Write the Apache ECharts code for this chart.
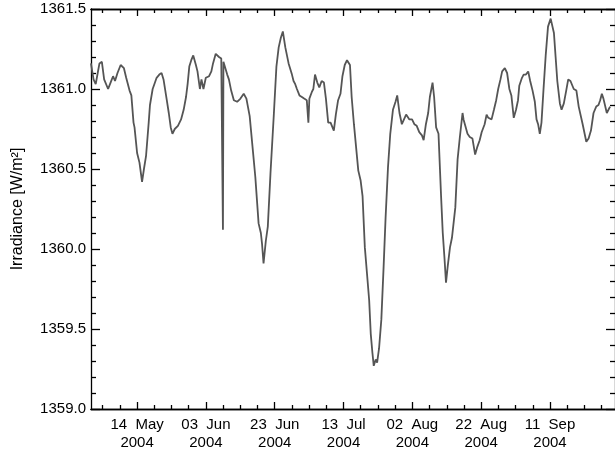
<!DOCTYPE html>
<html>
<head>
<meta charset="utf-8">
<script src="https://cdn.jsdelivr.net/npm/echarts@6/dist/echarts.min.js"></script>
<style>
  html, body { margin: 0; padding: 0; background: #fff; }
  #chart { width: 615px; height: 453px; }
</style>
</head>
<body>
<div id="chart"></div>
<script>
// day of year 2004 (fractional) and total solar irradiance in W/m^2
const days = [
  121.59, 122.34, 122.97, 123.55, 124.06, 124.76, 125.42, 125.99, 126.57, 127.29,
  128.01, 128.58, 129.30, 130.22, 131.17, 131.83, 132.81, 133.33, 133.96, 134.25,
  135.00, 135.69, 136.44, 136.99, 137.59, 138.37, 138.74, 139.52, 140.01, 140.67,
  141.45, 142.11, 142.68, 143.63, 144.21, 144.78, 145.27, 145.94, 146.51, 146.86,
  147.78, 148.53, 149.22, 149.68, 150.17, 150.74, 151.32, 152.09, 152.55, 153.25,
  153.71, 154.28, 154.97, 155.92, 156.58, 157.07, 157.85, 158.80, 159.46, 159.81,
  159.95, 160.09, 160.44, 161.19, 161.68, 162.34, 163.12, 164.07, 165.04, 165.99,
  166.77, 167.72, 168.67, 169.36, 170.31, 170.97, 171.32, 171.75, 172.41, 172.99,
  173.76, 174.71, 175.49, 176.15, 176.78, 177.36, 178.08, 179.03, 180.01, 180.47,
  180.96, 181.45, 182.19, 182.89, 183.55, 184.32, 184.78, 185.07, 185.76, 186.22,
  186.71, 187.37, 187.95, 188.64, 189.30, 189.88, 190.54, 191.23, 191.81, 192.18,
  192.76, 193.42, 194.11, 194.68, 195.35, 196.01, 196.87, 197.36, 198.02, 198.51,
  199.29, 199.95, 200.53, 201.19, 201.88, 202.45, 202.91, 203.40, 203.78, 204.35,
  204.76, 205.33, 205.99, 206.65, 207.23, 207.92, 208.58, 209.36, 209.73, 210.11,
  210.60, 211.26, 211.95, 212.41, 213.19, 214.14, 214.91, 215.58, 216.27, 217.01,
  217.79, 218.28, 218.94, 219.60, 220.09, 220.87, 221.33, 221.91, 222.60, 223.35,
  223.84, 224.32, 224.78, 225.27, 225.94, 226.51, 226.91, 227.49, 228.15, 228.81,
  229.59, 229.88, 230.37, 231.03, 231.69, 232.47, 233.25, 233.91, 234.57, 235.14,
  236.01, 236.58, 237.07, 238.02, 238.71, 239.37, 239.95, 240.61, 241.10, 241.88,
  242.54, 243.20, 243.78, 244.47, 245.13, 245.71, 246.08, 246.86, 247.35, 248.01,
  248.67, 249.25, 249.94, 250.60, 251.09, 251.55, 252.04, 252.53, 253.10, 253.76,
  254.43, 255.20, 255.69, 256.15, 256.64, 257.13, 257.88, 258.37, 259.03, 259.72,
  260.30, 260.96, 261.45, 261.91, 262.68, 263.35, 263.84, 264.50, 264.99, 265.56,
  266.22, 266.91, 267.66, 268.44, 269.10, 269.59, 270.08, 270.54, 271.03, 271.52,
  271.98, 272.47
];
const irradiance = [
  1361.16, 1361.06, 1361.03, 1361.10, 1361.16, 1361.17, 1361.06, 1361.05, 1361.00, 1361.04,
  1361.08, 1361.05, 1361.10, 1361.15, 1361.13, 1361.07, 1360.99, 1360.96, 1360.79, 1360.76,
  1360.60, 1360.54, 1360.42, 1360.50, 1360.58, 1360.79, 1360.90, 1361.00, 1361.03, 1361.07,
  1361.09, 1361.10, 1361.06, 1360.93, 1360.85, 1360.76, 1360.72, 1360.75, 1360.76, 1360.77,
  1360.81, 1360.87, 1360.95, 1361.03, 1361.14, 1361.18, 1361.21, 1361.15, 1361.11, 1361.00,
  1361.06, 1361.00, 1361.07, 1361.08, 1361.11, 1361.16, 1361.22, 1361.20, 1361.19, 1361.19,
  1360.12, 1361.17, 1361.16, 1361.09, 1361.06, 1360.99, 1360.93, 1360.92, 1360.94, 1360.97,
  1360.94, 1360.83, 1360.61, 1360.45, 1360.16, 1360.10, 1360.03, 1359.91, 1360.05, 1360.14,
  1360.47, 1360.83, 1361.14, 1361.26, 1361.32, 1361.36, 1361.26, 1361.16, 1361.09, 1361.05,
  1361.03, 1361.00, 1360.96, 1360.95, 1360.94, 1360.93, 1360.79, 1360.94, 1360.98, 1361.00,
  1361.09, 1361.04, 1361.01, 1361.05, 1361.04, 1360.94, 1360.79, 1360.79, 1360.79, 1360.74,
  1360.84, 1360.93, 1360.97, 1361.08, 1361.15, 1361.18, 1361.15, 1360.95, 1360.78, 1360.77,
  1360.49, 1360.43, 1360.33, 1360.01, 1359.83, 1359.68, 1359.47, 1359.35, 1359.27, 1359.31,
  1359.29, 1359.38, 1359.56, 1359.89, 1360.20, 1360.51, 1360.72, 1360.87, 1360.87, 1360.92,
  1360.96, 1360.85, 1360.78, 1360.79, 1360.84, 1360.81, 1360.81, 1360.78, 1360.77, 1360.73,
  1360.71, 1360.68, 1360.78, 1360.85, 1360.95, 1361.04, 1360.95, 1360.76, 1360.72, 1360.33,
  1360.10, 1359.95, 1359.79, 1359.89, 1360.01, 1360.07, 1360.07, 1360.26, 1360.56, 1360.70,
  1360.85, 1360.81, 1360.82, 1360.72, 1360.70, 1360.69, 1360.59, 1360.64, 1360.68, 1360.73,
  1360.78, 1360.84, 1360.82, 1360.81, 1360.87, 1360.93, 1361.00, 1361.06, 1361.11, 1361.13,
  1361.10, 1361.00, 1360.96, 1360.82, 1360.87, 1360.93, 1361.02, 1361.07, 1361.09, 1361.09,
  1361.11, 1361.05, 1360.99, 1360.92, 1360.81, 1360.78, 1360.72, 1360.79, 1360.99, 1361.21,
  1361.39, 1361.44, 1361.43, 1361.35, 1361.20, 1361.05, 1360.91, 1360.87, 1360.91, 1360.99,
  1361.06, 1361.05, 1361.06, 1361.00, 1360.99, 1360.89, 1360.90, 1360.78, 1360.77, 1360.67,
  1360.69, 1360.74, 1360.85, 1360.89, 1360.90, 1360.93, 1360.97, 1360.94, 1360.94, 1360.85,
  1360.85, 1360.89
];
const majorDays = [135, 155, 175, 195, 215, 235, 255];
const minorDays = [125, 130, 140, 145, 150, 160, 165, 170, 180, 185, 190, 200, 205, 210,
  220, 225, 230, 240, 245, 250, 260, 265, 270];
const dayMin = 121.6, dayMax = 273.9;
const monthNames = ['Jan', 'Feb', 'Mar', 'Apr', 'May', 'Jun', 'Jul', 'Aug', 'Sep', 'Oct', 'Nov', 'Dec'];

const FONT = 'Liberation Sans';
const black = '#000';

function doyLabel(d) {
  const dt = new Date(Date.UTC(2004, 0, 1) + (Math.round(d) - 1) * 864e5);
  const dd = String(dt.getUTCDate()).padStart(2, '0');
  return dd + '  ' + monthNames[dt.getUTCMonth()] + '\n' + dt.getUTCFullYear();
}

function xAxisDef(pos, ticks, len, labels) {
  return {
    type: 'value', position: pos, min: dayMin, max: dayMax,
    axisLine: { show: true, onZero: false, lineStyle: { color: black, width: 1.3 } },
    axisTick: { show: true, inside: true, length: len, customValues: ticks,
      lineStyle: { color: black, width: 1.3 } },
    axisLabel: labels ? {
      show: true, customValues: ticks, formatter: doyLabel, margin: 7,
      color: black, fontFamily: FONT, fontSize: 15, lineHeight: 18
    } : { show: false },
    splitLine: { show: false }
  };
}

function yAxisDef(pos, labels) {
  return {
    type: 'value', position: pos, min: 1359.0, max: 1361.5, interval: 0.5,
    name: labels ? 'Irradiance [W/m\u00b2]' : '',
    nameLocation: 'middle', nameGap: 65,
    nameTextStyle: { color: black, fontFamily: FONT, fontSize: 16 },
    axisLine: { show: true, onZero: false, lineStyle: { color: black, width: 1.3 } },
    axisTick: { show: true, inside: true, length: 9, lineStyle: { color: black, width: 1.3 } },
    minorTick: { show: true, splitNumber: 5, length: 5, lineStyle: { color: black, width: 1.3 } },
    axisLabel: labels ? {
      show: true, margin: 5, color: black, fontFamily: FONT, fontSize: 15,
      formatter: v => v.toFixed(1)
    } : { show: false },
    splitLine: { show: false }
  };
}

const chart = echarts.init(document.getElementById('chart'), null, { renderer: 'canvas' });
chart.setOption({
  animation: false,
  backgroundColor: '#fff',
  grid: { left: 91, top: 9, width: 529, height: 400, containLabel: false },
  xAxis: [
    xAxisDef('bottom', majorDays, 7, true),
    xAxisDef('bottom', minorDays, 4, false),
    xAxisDef('top', majorDays, 7, false),
    xAxisDef('top', minorDays, 4, false)
  ],
  yAxis: [yAxisDef('left', true), yAxisDef('right', false)],
  series: [{
    type: 'line',
    xAxisIndex: 0,
    yAxisIndex: 0,
    data: days.map((d, i) => [d, irradiance[i]]),
    showSymbol: false,
    symbol: 'none',
    clip: true,
    lineStyle: { color: '#555', width: 1.8 }
  }]
});
</script>
</body>
</html>
